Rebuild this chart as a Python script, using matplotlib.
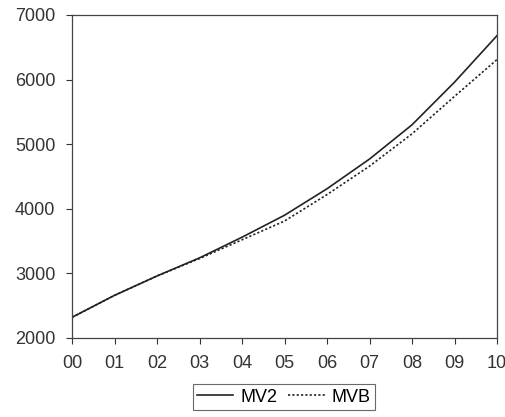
import matplotlib
matplotlib.use("Agg")
import matplotlib.pyplot as plt

years = ["00", "01", "02", "03", "04", "05", "06", "07", "08", "09", "10"]
mv2 = [2320, 2660, 2960, 3240, 3560, 3900, 4310, 4770, 5300, 5960, 6680]
mvb = [2320, 2660, 2960, 3230, 3520, 3810, 4220, 4660, 5160, 5740, 6310]

plt.rcParams['font.family'] = ['Liberation Sans', 'DejaVu Sans']
fig = plt.figure(figsize=(5.06, 4.17), dpi=100)
ax = fig.add_axes([72/506, 1-338/417, (497-72)/506, (338-15)/417])
x = list(range(len(years)))
ax.plot(x, mv2, color='#222222', lw=1.2, ls='-', label='MV2')
ax.plot(x, mvb, color='#222222', lw=1.2, ls=(0, (1.3, 1.3)), label='MVB')
ax.set_xlim(0, 10)
ax.set_ylim(2000, 7000)
ax.set_xticks(x)
ax.set_xticklabels(years)
ax.set_yticks([2000, 3000, 4000, 5000, 6000, 7000])
ax.tick_params(labelsize=13, colors='#333333', length=4, width=0.8, direction='out')
ax.tick_params(axis='x', pad=8)
ax.tick_params(axis='y', pad=8)
for s in ax.spines.values():
    s.set_color('#444444')
    s.set_linewidth(0.9)
leg = ax.legend(loc='center', bbox_to_anchor=(284/506, 1-397/417), bbox_transform=fig.transFigure,
                ncol=2, frameon=True, fancybox=False, fontsize=13, handlelength=2.0,
                handletextpad=0.4, columnspacing=0.6, borderpad=0.25, borderaxespad=0,
                edgecolor='#444444')
leg.get_frame().set_linewidth(0.8)
fig.savefig("out.png", dpi=100)
